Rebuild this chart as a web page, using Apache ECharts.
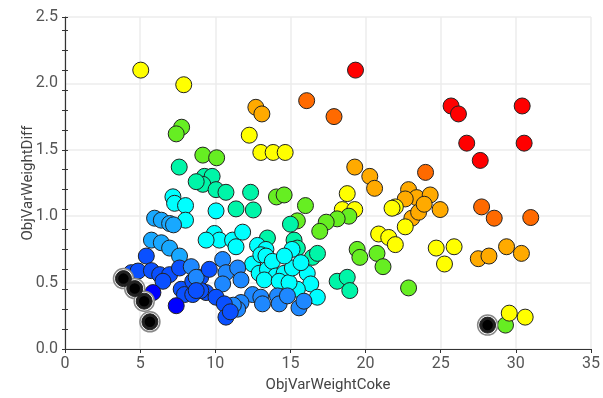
<!DOCTYPE html>
<html>
<head>
<meta charset="utf-8">
<script src="https://cdn.jsdelivr.net/npm/echarts@6/dist/echarts.min.js"></script>
<style>html,body{margin:0;padding:0;background:#fff}#c{width:603px;height:398px}</style>
</head>
<body>
<div id="c"></div>
<script>
// colour levels (jet-like scale)
const palette = ['#0000ff','#0a50ff','#1e88ff','#18a8ff','#00ffff','#00f5a8','#40f060','#66ee22','#aaff00','#ffff00','#ffaa00','#ff6a00','#ff0000'];

// x (ObjVarWeightCoke), y (ObjVarWeightDiff), colour level
const xs = [5.04,7.90,7.76,7.40,7.60,9.17,10.09,12.70,13.10,16.08,17.90,19.33,12.26,13.03,13.85,14.65,19.28,20.28,20.60,
25.69,26.18,30.42,26.73,30.55,27.63,23.99,
22.86,23.40,24.30,24.96,23.08,23.53,22.64,22.64,23.90,
21.98,21.76,20.87,21.54,21.98,18.78,18.45,19.28,
27.72,28.56,30.99,29.38,30.37,27.50,28.21,
24.70,25.89,25.25,22.86,29.31,29.56,30.62,
18.89,18.11,17.38,16.95,16.00,15.46,19.44,19.62,20.76,21.16,14.07,14.58,
15.24,15.46,16.46,16.80,18.11,18.78,18.95,15.00,13.47,11.38,12.53,9.28,9.79,9.17,10.05,10.71,12.35,8.73,
16.12,16.35,15.46,16.79,7.18,7.29,8.02,8.02,10.05,9.94,10.27,11.15,11.82,11.38,9.39,12.81,13.37,15.11,
12.48,13.03,13.37,12.92,13.47,13.80,14.03,14.58,13.26,14.25,14.91,15.13,15.70,14.60,
5.96,6.41,6.96,7.22,5.75,6.41,6.96,7.62,5.41,
10.49,10.71,11.49,11.71,10.49,12.48,13.03,13.14,14.14,14.25,14.80,11.71,11.49,11.20,15.57,15.90,
9.03,9.39,10.05,10.60,10.71,11.00,9.03,4.42,4.86,5.75,6.30,6.96,6.52,7.73,7.95,5.85,7.40,8.50,8.50,7.62,8.40,8.73,8.73,9.60];
const ys = [2.10,1.99,1.67,1.62,1.37,1.46,1.44,1.82,1.77,1.87,1.75,2.10,1.61,1.48,1.48,1.48,1.37,1.30,1.21,
1.83,1.77,1.83,1.55,1.55,1.42,1.33,
1.20,1.14,1.16,1.05,0.985,1.03,0.92,1.13,1.09,
1.07,1.06,0.866,0.84,0.786,1.17,1.05,1.05,
1.07,0.985,0.99,0.77,0.72,0.68,0.70,
0.76,0.77,0.64,0.46,0.18,0.27,0.24,
1.00,0.98,0.955,0.886,1.08,0.965,0.75,0.69,0.72,0.62,1.145,1.16,
0.82,0.76,0.69,0.72,0.51,0.54,0.44,0.94,0.836,1.055,1.047,1.30,1.30,1.24,1.20,1.18,1.18,1.26,
0.57,0.49,0.45,0.39,1.146,1.097,1.08,0.97,1.04,0.87,0.82,0.82,0.88,0.77,0.82,0.78,0.75,0.75,
0.64,0.71,0.70,0.57,0.60,0.66,0.55,0.57,0.52,0.51,0.50,0.61,0.65,0.70,
0.985,0.97,0.945,0.935,0.82,0.80,0.76,0.70,0.70,
0.674,0.575,0.61,0.52,0.49,0.41,0.39,0.34,0.40,0.34,0.40,0.35,0.30,0.33,0.31,0.36,
0.54,0.425,0.39,0.34,0.24,0.28,0.44,0.575,0.587,0.59,0.56,0.56,0.51,0.45,0.41,0.425,0.326,0.51,0.41,0.61,0.62,0.54,0.44,0.60];
const cs = [9,9,7,7,5,7,7,10,10,11,11,12,9,9,9,9,10,10,10,
12,12,12,12,12,12,11,
10,10,10,10,10,10,9,10,10,
9,9,9,9,9,9,9,9,
11,11,11,10,10,10,10,
9,9,9,7,7,9,9,
7,7,7,7,7,7,7,7,7,7,7,7,
5,5,5,5,5,5,5,5,5,5,5,5,5,5,5,5,5,5,
4,4,4,4,4,4,4,4,4,4,4,4,4,4,4,4,4,4,
4,4,4,4,4,4,4,4,4,4,4,4,4,4,
3,3,3,3,3,3,3,3,1,
2,2,2,2,2,2,2,2,2,2,2,2,2,2,2,2,
1,1,1,1,1,1,1,1,1,1,1,1,1,1,1,0,0,1,1,1,2,2,1,1];

// highlighted (selected) points
const hx = [3.89,4.64,5.27,5.65,28.12];
const hy = [0.53,0.455,0.36,0.205,0.18];
const hc = [0,0,0,0,7];

const xTicks = [0,5,10,15,20,25,30,35];
const yTicks = [0,0.5,1.0,1.5,2.0,2.5];

const pts = xs.map((x,i)=>[x,ys[i],cs[i]]);
const hpts = hx.map((x,i)=>[x,hy[i],hc[i]]);

const chart = echarts.init(document.getElementById('c'), null, {renderer:'canvas'});
const font = 'Roboto, "Liberation Sans", sans-serif';
chart.setOption({
  animation:false,
  grid:{left:65,right:10,top:17,bottom:46},
  xAxis:{type:'value',min:xTicks[0],max:xTicks[xTicks.length-1],interval:5,
    name:'ObjVarWeightCoke',nameLocation:'middle',nameGap:29,nameMoveOverlap:false,
    nameTextStyle:{fontFamily:font,fontSize:15,color:'#444'},
    axisLine:{lineStyle:{color:'#333',width:1.2}},
    axisTick:{show:true,length:4,lineStyle:{color:'#333'}},
    axisLabel:{fontFamily:font,fontSize:16,color:'#555',margin:7},
    splitLine:{lineStyle:{color:'#ececec',width:1.5}}},
  yAxis:[{type:'value',min:yTicks[0],max:yTicks[yTicks.length-1],interval:0.5,
    name:'ObjVarWeightDiff',nameLocation:'middle',nameGap:29,nameMoveOverlap:false,
    nameTextStyle:{fontFamily:font,fontSize:15,color:'#444'},
    axisLine:{show:true,lineStyle:{color:'#333',width:1.2}},
    axisTick:{show:false},
    axisLabel:{fontFamily:font,fontSize:16,color:'#555',margin:7,formatter:v=>v.toFixed(1)},
    splitLine:{lineStyle:{color:'#ececec',width:1.5}}},
   {type:'value',min:0,max:2.5,interval:0.15,position:'left',offset:-3,
    axisLine:{show:false},axisTick:{show:true,length:6,lineStyle:{color:'#333'}},
    axisLabel:{show:false},splitLine:{show:false}}],
  series:[
    {type:'scatter',data:pts,symbolSize:16,
     itemStyle:{color:p=>palette[p.data[2]],borderColor:'#222',borderWidth:1,opacity:1}},
    {type:'scatter',data:hpts,symbolSize:20,z:3,
     itemStyle:{color:'#fff',borderColor:'#888',borderWidth:1.5,opacity:1}},
    {type:'scatter',data:hpts,symbolSize:16,z:4,
     itemStyle:{color:'#222',borderColor:'#222',borderWidth:1,opacity:1}},
    {type:'scatter',data:hpts,symbolSize:12,z:5,
     itemStyle:{color:'#000',borderColor:p=>palette[p.data[2]],borderWidth:1.5,opacity:1}}
  ]
});
</script>
</body>
</html>
